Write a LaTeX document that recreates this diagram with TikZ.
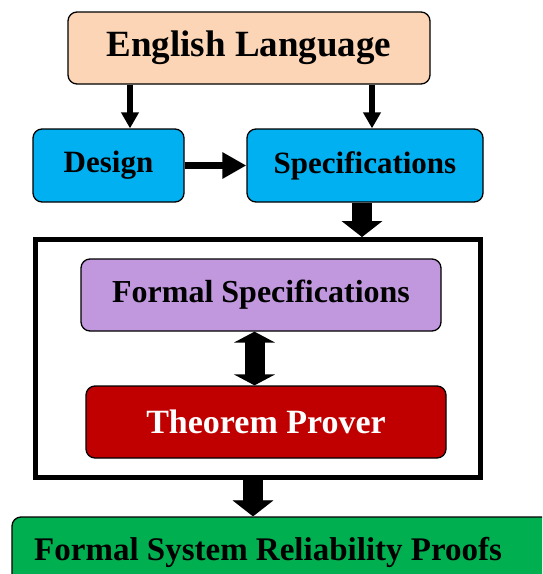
\documentclass[tikz,border=0pt]{standalone}
\usepackage{fontspec}
\setmainfont{Liberation Serif}
\usetikzlibrary{arrows.meta}
\definecolor{peach}{RGB}{251,213,181}
\definecolor{skyb}{RGB}{0,176,240}
\definecolor{lav}{RGB}{193,152,222}
\definecolor{dred}{RGB}{192,0,0}
\definecolor{grn}{RGB}{0,176,80}
\tikzset{
  box/.style={draw=black, line width=1.3pt, rounded corners=9pt, inner sep=0pt, align=center},
  thinarr/.style={draw=black, line width=6pt, -{Triangle[width=17pt,length=16pt]}},
  horarr/.style={draw=black, line width=7pt, -{Triangle[width=25pt,length=24pt]}},
  blockarr/.style={line width=20pt, -{Triangle[width=40pt,length=16pt]}},
  dblarr/.style={draw=black, line width=20pt, {Triangle[width=41pt,length=11pt]}-{Triangle[width=41pt,length=11pt]}},
}
\begin{document}
\begin{tikzpicture}[x=1pt,y=-1pt]
\useasboundingbox (0,0) rectangle (542,574);
\clip (0,0) rectangle (542,574);
% boxes
\node[box, fill=peach, minimum width=362pt, minimum height=72pt, font=\fontsize{37}{40}\selectfont\bfseries] (eng) at (249,48) {English Language};
\node[box, fill=skyb, minimum width=151pt, minimum height=73pt, font=\fontsize{31}{34}\selectfont\bfseries] (design) at (108.5,165.5) {Design};
\node[box, fill=skyb, minimum width=236pt, minimum height=73pt, font=\fontsize{31}{34}\selectfont\bfseries] (spec) at (365,165.5) {Specifications};
\node[draw=black, line width=5pt, minimum width=445pt, minimum height=238pt, inner sep=0pt] (frame) at (258,358.5) {};
\node[box, fill=lav, minimum width=360pt, minimum height=72pt, font=\fontsize{32}{35}\selectfont\bfseries] (fs) at (261,295) {Formal Specifications};
\node[box, fill=dred, text=white, minimum width=360pt, minimum height=72pt, font=\fontsize{34}{37}\selectfont\bfseries] (tp) at (266,422) {Theorem Prover};
\node[box, fill=grn, minimum width=560pt, minimum height=80pt] (green) at (292,557) {};
\node[anchor=base west, inner sep=0pt, font=\fontsize{33}{36}\selectfont\bfseries] (proofs) at (34,560) {Formal System Reliability Proofs};
% connector reference points
\coordinate (a1) at (130,0);
\coordinate (a2) at (372,0);
\coordinate (a3) at (362,0);
\coordinate (a4) at (254.5,0);
\coordinate (a5) at (253,0);
% thin arrows
\draw[thinarr] (a1 |- eng.south) -- (a1 |- design.north);
\draw[thinarr] (a2 |- eng.south) -- (a2 |- spec.north);
\draw[horarr] (design.east) -- (spec.west);
% block arrow spec -> frame with shadow
\draw[blockarr, draw=black!35, shift={(3pt,-3pt)}] (a3 |- spec.south) -- (a3 |- frame.north);
\draw[blockarr, draw=black] (a3 |- spec.south) -- (a3 |- frame.north);
% double arrow
\draw[dblarr] (a4 |- fs.south) -- (a4 |- tp.north);
% block arrow frame -> green with shadow
\draw[blockarr, draw=black!35, shift={(3pt,-3pt)}] (a5 |- frame.south) -- (a5 |- green.north);
\draw[blockarr, draw=black] (a5 |- frame.south) -- (a5 |- green.north);
\end{tikzpicture}
\end{document}
